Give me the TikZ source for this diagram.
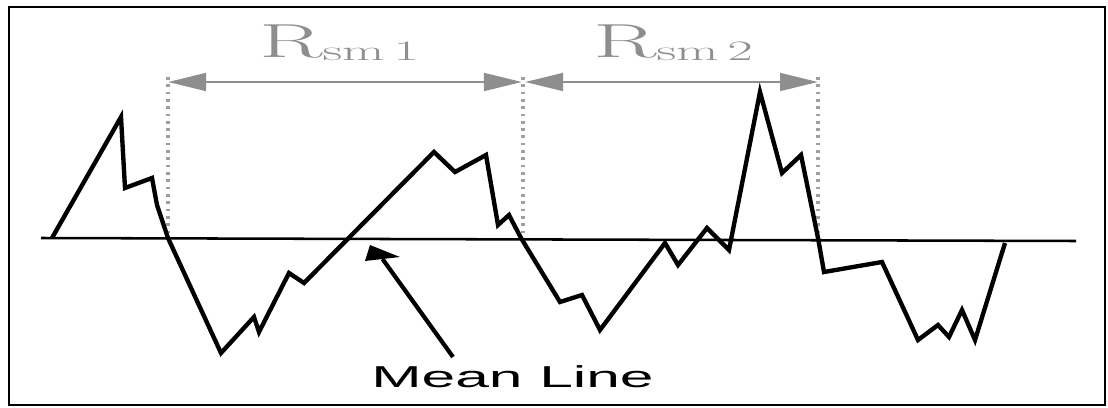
\documentclass[tikz,border=0pt]{standalone}
\usepackage{fontspec}
\usepackage{graphicx}
\usetikzlibrary{arrows.meta, calc}
\newfontfamily\arialfont{Liberation Sans}
\definecolor{rsmgray}{HTML}{8E8E8E}

\begin{document}
\begin{tikzpicture}[x=0.025cm, y=-0.025cm,
  profile/.style={line width=3.1pt, line join=miter, miter limit=10},
  meanline/.style={line width=1.8pt},
  dimarr/.style={{Triangle[length=0.95cm,width=0.44cm]}-{Triangle[length=0.95cm,width=0.44cm]},
                 line width=2pt, color=rsmgray},
  guide/.style={rsmgray!85, line width=3pt, dash pattern=on 1.9pt off 3.3pt},
  rlbl/.style={text=rsmgray, inner sep=0pt, anchor=base,
               font=\fontsize{34}{36}\selectfont},
  mlbl/.style={inner sep=0pt, anchor=base west,
               font=\arialfont\fontsize{21.5}{24}\selectfont},
  pointer/.style={line width=3pt},
]
\useasboundingbox (0,0) rectangle (1108,407);

%% --- frame ---
\draw[line width=2pt] (9,7) rectangle (1105,405);

%% --- limits of the two spacings ---
\coordinate (t1) at (168,77);  \coordinate (b1) at (168,238);
\coordinate (t2) at (523,77);  \coordinate (b2) at (523,238);
\coordinate (t3) at (818,77);  \coordinate (b3) at (818,238);
\draw[guide] (t1) -- (b1);
\draw[guide] (t2) -- (b2);
\draw[guide] (t3) -- (b3);

\coordinate (a1) at (168,82);
\coordinate (a2l) at (522,82);
\coordinate (a2r) at (525,82);
\coordinate (a3) at (818,82);
\draw[dimarr] (a1) -- (a2l);
\draw[dimarr] (a2r) -- (a3);

\node[rlbl] (rsm1) at (339,58)
  {\scalebox{1.95}[1]{R\raisebox{-1.5pt}{\fontsize{20}{22}\selectfont sm\,1}}};
\node[rlbl] (rsm2) at (673,58)
  {\scalebox{1.95}[1]{R\raisebox{-1.5pt}{\fontsize{20}{22}\selectfont sm\,2}}};

%% --- mean line ---
\coordinate (ml0) at (41,238);
\coordinate (ml1) at (1076,241);
\draw[meanline] (ml0) -- (ml1);

%% --- roughness profile ---
\draw[profile] (52,238) -- (121,117) -- (125,188) -- (152,178) -- (157,205)
  -- (168,238) -- (221,353) -- (254,317) -- (259,332) -- (289,273)
  -- (304,283) -- (434,152) -- (455,172) -- (486,155) -- (498,225)
  -- (509,215) -- (521,238) -- (560,302) -- (582,295) -- (600,330)
  -- (665,243) -- (678,265) -- (707,228) -- (729,250) -- (760,92)
  -- (782,173) -- (801,155) -- (818,238) -- (824,272) -- (882,262)
  -- (918,340) -- (938,325) -- (949,337) -- (962,310) -- (975,340)
  -- (1005,243);

%% --- label of the mean line ---
\node[mlbl] (mean) at (371,387) {\scalebox{2.0}[1]{Mean Line}};
\coordinate (tip) at (370,245);
\coordinate (hl) at (365,261);
\coordinate (hr) at (400,257);
\coordinate (tail) at (453,357);
\draw[pointer] (tail) -- ($(hl)!0.5!(hr)$);
\fill (tip) -- (hl) -- (hr) -- cycle;
\end{tikzpicture}
\end{document}
